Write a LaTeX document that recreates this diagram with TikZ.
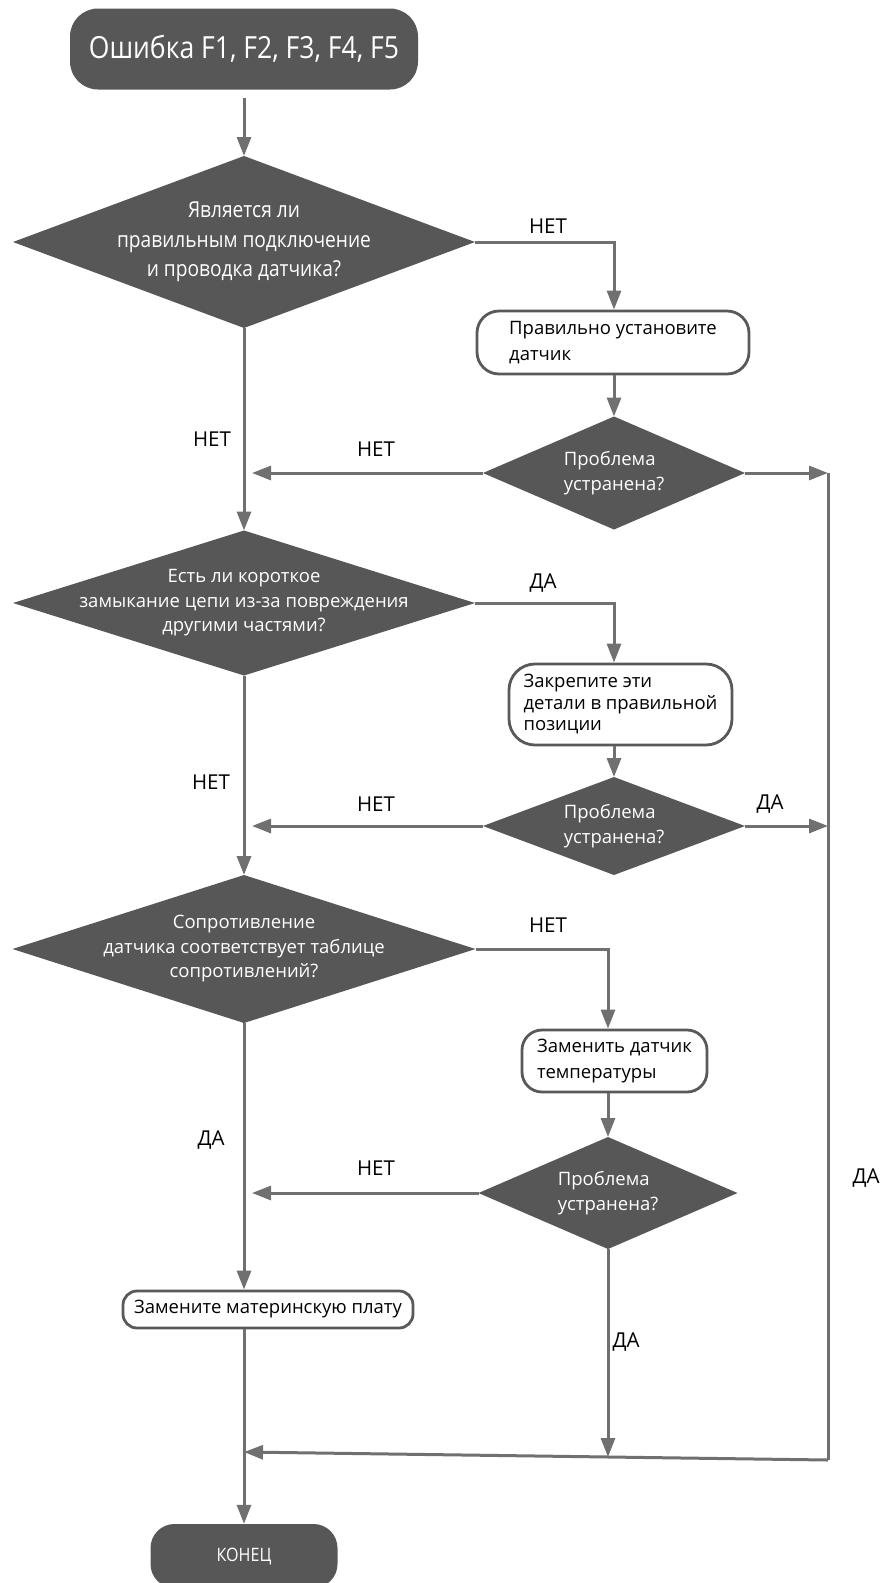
\documentclass[tikz,border=0pt]{standalone}
\usepackage{fontspec}
\setmainfont{Open Sans}
\newfontfamily\condfont[FakeStretch=0.87]{Open Sans}
\usetikzlibrary{shapes.geometric,arrows.meta}
\definecolor{darkfill}{HTML}{575757}
\definecolor{linegray}{HTML}{707070}
\definecolor{boxline}{HTML}{595959}

\begin{document}
\begin{tikzpicture}[x=1pt,y=-1pt,
  flow/.style={draw=linegray,line width=3pt,-{Triangle[length=19pt,width=14pt]}},
  rail/.style={draw=linegray,line width=3pt},
  term/.style={fill=darkfill,text=white,inner sep=0pt},
  dec/.style={diamond,fill=darkfill,inner sep=0pt,outer sep=0pt},
  dectext/.style={text=white,align=center,font=\fontsize{18.5}{24.5}\selectfont},
  condtext/.style={text=white,align=center,font=\condfont\fontsize{22}{29.5}\selectfont},
  act/.style={draw=boxline,line width=2.8pt,fill=white,align=left,inner sep=0pt,
    font=\fontsize{18.5}{26}\selectfont},
  lbl/.style={font=\fontsize{20.5}{24}\selectfont,text=black}
]
\useasboundingbox (0,0) rectangle (888,1583);

% terminators
\node[term,rounded corners=28pt,minimum width=348pt,minimum height=81pt,
  font=\condfont\fontsize{30.5}{34}\selectfont] (start) at (244,49) {Ошибка F1, F2, F3, F4, F5};
\node[term,rounded corners=24pt,minimum width=187pt,minimum height=64pt,
  font=\condfont\fontsize{18.5}{22}\selectfont] (end) at (244,1556) {КОНЕЦ};

% decisions
\node[dec,minimum width=462pt,minimum height=172pt] (d1) at (244,242) {};
\node[condtext] (t1) at (d1.center) {Является ли\\правильным подключение\\и проводка датчика?};
\node[dec,minimum width=262pt,minimum height=113pt] (d2) at (614,473) {};
\node[dectext,align=left] (t2) at (d2.center) {Проблема\\устранена?};
\node[dec,minimum width=462pt,minimum height=145pt] (d3) at (244,603) {};
\node[dectext] (t3) at (d3.center) {Есть ли короткое\\замыкание цепи из-за повреждения\\другими частями?};
\node[dec,minimum width=262pt,minimum height=98pt] (d4) at (614,826) {};
\node[dectext,align=left] (t4) at (d4.center) {Проблема\\устранена?};
\node[dec,minimum width=463pt,minimum height=148pt] (d5) at (244,949) {};
\node[dectext] (t5) at (d5.center) {Сопротивление\\датчика соответствует таблице\\сопротивлений?};
\node[dec,minimum width=259pt,minimum height=112pt] (d6) at (608,1193) {};
\node[dectext,align=left] (t6) at (d6.center) {Проблема\\устранена?};

% actions
\node[act,rounded corners=22pt,minimum width=272pt,minimum height=63pt] (b1) at (613,342.5)
  {Правильно установите\\датчик};
\node[act,rounded corners=26pt,minimum width=223pt,minimum height=81pt,
  font=\fontsize{18.5}{21.5}\selectfont] (b2) at (620.5,704.5)
  {Закрепите эти\\детали в правильной\\позиции};
\node[act,rounded corners=20pt,minimum width=185pt,minimum height=62pt] (b3) at (614.5,1061)
  {Заменить датчик\\температуры};
\node[act,rounded corners=14pt,minimum width=290pt,minimum height=37pt] (b4) at (268,1309.5)
  {Замените материнскую плату};

% rail on the right and the joining line at the bottom
\coordinate (railtop) at (828,473);
\coordinate (railbot) at (828,1460);
\coordinate (join) at (244,1452);
\coordinate (d6end) at (608,1457);

% main column
\draw[flow,shorten <=8pt] (start.south) -- (d1.north);
\draw[flow] (d1.south) -- (d3.north);
\draw[flow] (d3.south) -- (d5.north);
\draw[flow] (d5.south) -- (d5.south |- b4.north);
\draw[flow] (d5.south |- b4.south) -- (end.north);

% right branches
\draw[flow] (d1.east) -| (d2.north |- b1.north);
\draw[flow] (b1.south -| d2.north) -- (d2.north);
\draw[flow] (d3.east) -| (d4.north |- b2.north);
\draw[flow] (b2.south -| d4.north) -- (d4.north);
\draw[flow] (d5.east) -| (d6.north |- b3.north);
\draw[flow] (b3.south -| d6.north) -- (d6.north);

% back to the main column
\draw[flow,shorten >=8pt] (d2.west) -- (d2.west -| d1.south);
\draw[flow,shorten >=8pt] (d4.west) -- (d4.west -| d1.south);
\draw[flow,shorten >=8pt] (d6.west) -- (d6.west -| d1.south);

% solved: to the rail and down to the end
\draw[flow] (d2.east) -- (d2.east -| railtop);
\draw[flow] (d4.east) -- (d4.east -| railtop);
\draw[rail] (railtop) -- (railbot);
\draw[flow] (railbot) -- (join);
\draw[flow] (d6.south) -- (d6end);

% branch labels
\node[lbl] (l1) at (548,226) {НЕТ};
\node[lbl] (l2) at (212,439) {НЕТ};
\node[lbl] (l3) at (376,449) {НЕТ};
\node[lbl] (l4) at (543,583) {ДА};
\node[lbl] (l5) at (211,782) {НЕТ};
\node[lbl] (l6) at (376,804) {НЕТ};
\node[lbl] (l7) at (770,804) {ДА};
\node[lbl] (l8) at (548,925) {НЕТ};
\node[lbl] (l9) at (211,1140) {ДА};
\node[lbl] (l10) at (376,1168) {НЕТ};
\node[lbl] (l11) at (866,1178) {ДА};
\node[lbl] (l12) at (626,1342) {ДА};
\end{tikzpicture}
\end{document}
